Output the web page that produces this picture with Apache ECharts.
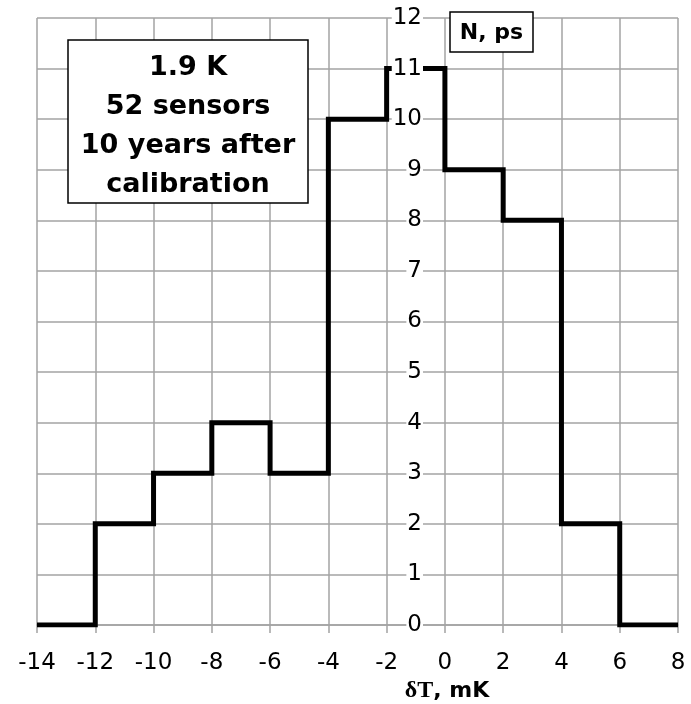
<!DOCTYPE html>
<html>
<head>
<meta charset="utf-8">
<script src="https://cdn.jsdelivr.net/npm/echarts@6/dist/echarts.min.js"></script>
<style>html,body{margin:0;padding:0;background:#fff;}#c{width:691px;height:704px;}</style>
</head>
<body>
<div id="c"></div>
<script>
// Bin edges (δT, mK) and sensor counts in each bin
const binStarts = [-14, -12, -10, -8, -6, -4, -2, 0, 2, 4, 6];
const counts    = [0, 2, 3, 4, 3, 10, 11, 9, 8, 2, 0];
const binEnd = 8;
const xTickLabels = ['-14','-12','-10','-8','-6','-4','-2','0','2','4','6','8'];
const infoLines = ['1.9 K', '52 sensors', '10 years after', 'calibration'];
const yTitle = 'N, ps';
const xTitle = ['δT', ', mK'];

const stepData = binStarts.map((x, i) => [x, counts[i]]);
stepData.push([binEnd, counts[counts.length - 1]]);

const chart = echarts.init(document.getElementById('c'));
const gridColor = '#a3a3a3';
const font = 'DejaVu Sans';
chart.setOption({
  animation: false,
  backgroundColor: '#fff',
  grid: { left: 37, right: 13, top: 18, bottom: 79, containLabel: false, outerBoundsMode: 'none' },
  xAxis: {
    type: 'value', min: -14, max: 8, interval: 2,
    axisLine: { show: true, onZero: false, lineStyle: { color: gridColor, width: 1.5 } },
    axisTick: { show: true, inside: false, length: 8, lineStyle: { color: gridColor, width: 1.5 } },
    splitLine: { show: true, lineStyle: { color: gridColor, width: 1.5 } },
    axisLabel: {
      color: '#000', fontFamily: font, fontSize: 23, margin: 27,
      formatter: v => xTickLabels[Math.round((v + 14) / 2)]
    }
  },
  yAxis: [
    {
      type: 'value', min: 0, max: 12, interval: 1, position: 'left',
      axisLine: { show: false, onZero: false }, axisTick: { show: false },
      axisLabel: { show: false },
      splitLine: { show: true, lineStyle: { color: gridColor, width: 1.5 } }
    },
    {
      type: 'value', min: 0, max: 12, interval: 1, position: 'left', z: 6,
      axisLine: { show: false, onZero: false },
      axisTick: { show: false },
      splitLine: { show: false },
      axisLabel: {
        color: '#000', fontFamily: font, fontSize: 23, margin: -386,
        backgroundColor: '#fff', padding: [0, 1, 0, 1]
      }
    }
  ],
  series: [{
    type: 'line', step: 'end', data: stepData, yAxisIndex: 0,
    symbol: 'none', z: 3,
    lineStyle: { color: '#000', width: 5, join: 'miter', cap: 'butt' }
  }],
  graphic: [
    { type: 'rect', z: 10, shape: { x: 68, y: 40, width: 240, height: 163 },
      style: { fill: '#fff', stroke: '#000', lineWidth: 1.5 } },
    { type: 'text', z: 11, x: 188, y: 126,
      style: { text: infoLines.join('\n'), fontFamily: font, fontWeight: 'bold', fontSize: 27,
               lineHeight: 39, fill: '#000', align: 'center', verticalAlign: 'middle' } },
    { type: 'rect', z: 10, shape: { x: 450, y: 12, width: 83, height: 40 },
      style: { fill: '#fff', stroke: '#000', lineWidth: 1.5 } },
    { type: 'text', z: 11, x: 491.5, y: 33,
      style: { text: yTitle, fontFamily: font, fontWeight: 'bold', fontSize: 22,
               fill: '#000', align: 'center', verticalAlign: 'middle' } },
    { type: 'text', z: 11, x: 447, y: 691,
      style: {
        text: '{a|' + xTitle[0] + '}{b|' + xTitle[1] + '}', align: 'center', verticalAlign: 'middle',
        rich: {
          a: { fontFamily: 'Liberation Serif', fontWeight: 'bold', fontSize: 24, fill: '#000' },
          b: { fontFamily: font, fontWeight: 'bold', fontSize: 22, fill: '#000' }
        }
      } }
  ]
});
</script>
</body>
</html>
